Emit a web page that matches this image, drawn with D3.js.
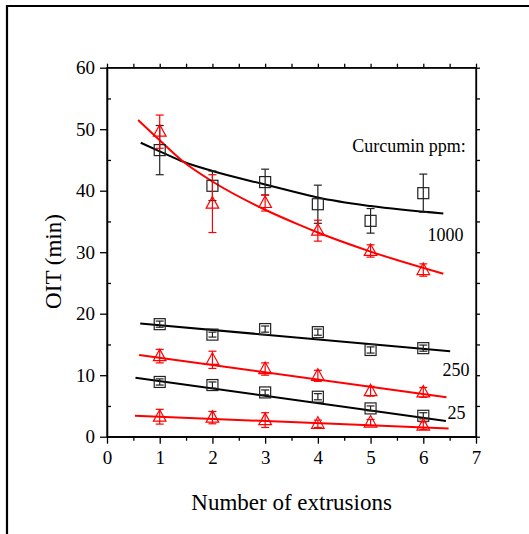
<!DOCTYPE html>
<html><head><meta charset="utf-8">
<script src="https://cdn.jsdelivr.net/npm/d3@7"></script>
<style>
body{margin:0;background:#fff;}
svg{display:block;font-family:"Liberation Serif","Times New Roman",serif;}
</style></head>
<body>
<svg id="c" width="529" height="534"></svg>
<script>
// ---- data ----
const extrusions = [1, 2, 3, 4, 5, 6];
const xTicks = [0, 1, 2, 3, 4, 5, 6, 7];
const yTicks = [0, 10, 20, 30, 40, 50, 60];

// black squares
const sq1000 = [46.6, 40.8, 41.4, 37.8, 35.1, 39.6];
const sq1000Err = [4.0, 2.4, 2.1, 3.1, 2.0, 3.1];
const sq250 = [18.3, 16.6, 17.5, 17.0, 14.1, 14.4];
const sq250Err = [0.5, 0.4, 0.5, 0.5, 0.5, 0.5];
const sq25 = [8.9, 8.4, 7.2, 6.5, 4.6, 3.4];
const sq25Err = [0.5, 0.5, 0.4, 0.5, 0.4, 0.5];
// red triangles
const tr1000 = [49.6, 37.9, 38.0, 33.5, 30.2, 27.1];
const tr1000Err = [2.7, 4.7, 1.3, 1.7, 1.0, 1.0];
const tr250 = [13.1, 12.5, 11.0, 9.9, 7.4, 7.2];
const tr250Err = [1.1, 1.4, 1.0, 0.9, 0.8, 0.8];
const tr25 = [3.25, 3.1, 2.7, 2.1, 2.3, 1.8];
const tr25Err = [1.2, 1.0, 1.2, 0.6, 0.5, 0.6];

// fitted curves
const fitSq1000 = [[0.64,47.8],[1,46.4],[1.45,44.7],[2,43.2],[3,41.0],[3.66,39.6],[4,38.9],[5,37.5],[6.38,36.3]];
const fitTr1000 = [[0.59,51.5],[1,48.2],[1.45,44.7],[2,41.5],[3,36.9],[3.66,34.4],[4,33.2],[5,30.1],[6.38,26.5]];
const fitSq250 = [[0.63,18.4],[6.51,13.9]];
const fitTr250 = [[0.61,13.3],[6.44,6.4]];
const fitSq25 = [[0.54,9.6],[6.43,2.55]];
const fitTr25 = [[0.53,3.4],[6.48,1.35]];

const labels = [
  {text:"Curcumin ppm:", x:5.73, y:46.3},
  {text:"1000", x:6.42, y:31.9},
  {text:"250", x:6.62, y:9.8},
  {text:"25", x:6.63, y:2.83}
];

// ---- drawing ----
const svg = d3.select("#c");
const L = 107, R = 476, T = 67.7, B = 436.7;
const x = d3.scaleLinear().domain([0, 7]).range([L, R]);
const y = d3.scaleLinear().domain([0, 60]).range([B, T]);
const RED = "#ff0000", BLK = "#000";

// outer frame
svg.append("path").attr("d", "M7,534V6H529").attr("fill","none").attr("stroke","#000").attr("stroke-width",2.2);

// axes
const half = d3.range(0.5, 7, 1);
const fives = d3.range(5, 60, 10);
function styleAxis(g){ g.selectAll("path,line").attr("stroke","#000").attr("stroke-width",1.3); g.selectAll("text").attr("font-size",19).attr("fill","#000").attr("font-family","Liberation Serif, Times New Roman, serif"); }

svg.append("g").attr("transform",`translate(0,${B})`)
  .call(d3.axisBottom(x).tickValues(xTicks).tickFormat(d3.format("d")).tickSize(7).tickSizeOuter(0).tickPadding(7))
  .call(styleAxis);
svg.append("g").attr("transform",`translate(0,${B})`)
  .call(d3.axisBottom(x).tickValues(half).tickFormat("").tickSize(4).tickSizeOuter(0))
  .call(styleAxis);
svg.append("g").attr("transform",`translate(${L},0)`)
  .call(d3.axisLeft(y).tickValues(yTicks).tickFormat(d3.format("d")).tickSize(7).tickSizeOuter(0).tickPadding(5))
  .call(styleAxis);
svg.append("g").attr("transform",`translate(${L},0)`)
  .call(d3.axisRight(y).tickValues(fives).tickFormat("").tickSize(4).tickSizeOuter(0))
  .call(styleAxis);
svg.append("g").attr("transform",`translate(0,${T})`)
  .call(d3.axisTop(x).tickValues(xTicks.concat(half)).tickFormat("").tickSize(4).tickSizeOuter(0))
  .call(styleAxis);
svg.append("g").attr("transform",`translate(${R},0)`)
  .call(d3.axisRight(y).tickValues(yTicks.concat(fives)).tickFormat("").tickSize(4).tickSizeOuter(0))
  .call(styleAxis);

// axis titles
svg.append("text").attr("x", 291.6).attr("y", 510).attr("text-anchor","middle")
  .attr("font-size",23).text("Number of extrusions");
svg.append("text").attr("transform","translate(61,261.5) rotate(-90)").attr("text-anchor","middle")
  .attr("font-size",23).text("OIT (min)");

// fit lines
const line = d3.line().x(d=>x(d[0])).y(d=>y(d[1])).curve(d3.curveMonotoneX);
[[fitSq1000,BLK],[fitTr1000,RED],[fitSq250,BLK],[fitTr250,RED],[fitSq25,BLK],[fitTr25,RED]].forEach(([pts,c])=>{
  svg.append("path").attr("d", line(pts)).attr("fill","none").attr("stroke",c).attr("stroke-width",2);
});

// error bars + markers
function errBars(vals, errs, color){
  const g = svg.append("g").attr("stroke", color).attr("stroke-width",1.2).attr("fill","none");
  extrusions.forEach((e,i)=>{
    const cx = x(e), y1 = y(vals[i]+errs[i]), y2 = y(vals[i]-errs[i]);
    g.append("line").attr("x1",cx).attr("x2",cx).attr("y1",y1).attr("y2",y2);
    g.append("line").attr("x1",cx-4).attr("x2",cx+4).attr("y1",y1).attr("y2",y1);
    g.append("line").attr("x1",cx-4).attr("x2",cx+4).attr("y1",y2).attr("y2",y2);
  });
}
function squares(vals){
  const g = svg.append("g");
  extrusions.forEach((e,i)=>{
    g.append("rect").attr("x",x(e)-5.5).attr("y",y(vals[i])-5.5).attr("width",11).attr("height",11)
      .attr("fill","none").attr("stroke","#222").attr("stroke-width",1.2);
  });
}
function triangles(vals){
  const g = svg.append("g");
  extrusions.forEach((e,i)=>{
    const cx = x(e), cy = y(vals[i]);
    g.append("path").attr("d",`M${cx},${cy-7}L${cx+6.3},${cy+4.5}L${cx-6.3},${cy+4.5}Z`)
      .attr("fill","none").attr("stroke",RED).attr("stroke-width",1.2);
  });
}
errBars(sq1000, sq1000Err, "#222"); squares(sq1000);
errBars(sq250, sq250Err, "#222"); squares(sq250);
errBars(sq25, sq25Err, "#222"); squares(sq25);
errBars(tr1000, tr1000Err, RED); triangles(tr1000);
errBars(tr250, tr250Err, RED); triangles(tr250);
errBars(tr25, tr25Err, RED); triangles(tr25);

// plot frame
svg.append("rect").attr("x",L).attr("y",T).attr("width",R-L).attr("height",B-T)
  .attr("fill","none").attr("stroke","#000").attr("stroke-width",1.3);

// labels
labels.forEach(l=>{
  svg.append("text").attr("x", x(l.x)).attr("y", y(l.y)).attr("text-anchor","middle")
    .attr("font-size",18).attr("fill","#000").text(l.text);
});
</script>
</body></html>
